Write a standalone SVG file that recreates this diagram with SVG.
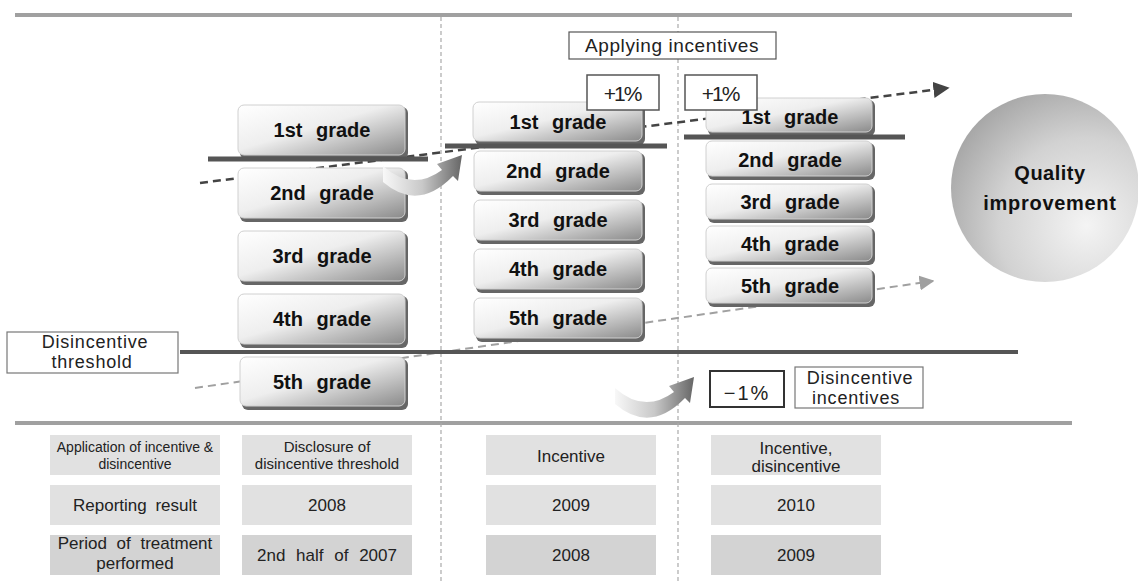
<svg xmlns="http://www.w3.org/2000/svg" width="1138" height="583" viewBox="0 0 1138 583">
<defs>
<linearGradient id="gb" x1="0" y1="0" x2="1" y2="1">
<stop offset="0" stop-color="#ffffff"/>
<stop offset="0.45" stop-color="#eeeeee"/>
<stop offset="1" stop-color="#8a8a8a"/>
</linearGradient>
<radialGradient id="gc" cx="0.72" cy="0.7" r="0.85">
<stop offset="0" stop-color="#f4f4f4"/>
<stop offset="0.55" stop-color="#d2d2d2"/>
<stop offset="1" stop-color="#a0a0a0"/>
</radialGradient>
<linearGradient id="ga" x1="0" y1="0" x2="1" y2="0">
<stop offset="0" stop-color="#f8f8f8"/>
<stop offset="0.5" stop-color="#c8c8c8"/>
<stop offset="1" stop-color="#666666"/>
</linearGradient>
<marker id="ahd" viewBox="0 0 10 10" refX="9" refY="5" markerWidth="6.5" markerHeight="6.5" orient="auto" markerUnits="strokeWidth">
<path d="M0,0 L10,5 L0,10 Z" fill="#444"/>
</marker>
<marker id="ahg" viewBox="0 0 10 10" refX="9" refY="5" markerWidth="7.5" markerHeight="7.5" orient="auto" markerUnits="strokeWidth">
<path d="M0,0 L10,5 L0,10 Z" fill="#a0a0a0"/>
</marker>
<path id="curv" d="M383,166 Q412,192 442,170 L437,164 L462,155 L458,181 L453,176 Q418,212 383,182 Z"/>
<style>
.sh{fill:#666;}
.bx{fill:url(#gb);stroke:#d0d0d0;stroke-width:1;}
.gt{font-family:"Liberation Sans",Arial,sans-serif;font-weight:bold;font-size:20px;fill:#111;text-anchor:middle;word-spacing:8px;}
.lb{fill:#fff;stroke:#555;stroke-width:1.2;}
.lt{font-family:"Liberation Sans",Arial,sans-serif;font-size:18px;fill:#222;text-anchor:middle;letter-spacing:0.8px;}
.cell1{fill:#e1e1e1;}
.cell3{fill:#d3d3d3;}
.ct{font-family:"Liberation Sans",Arial,sans-serif;font-size:17px;fill:#222;text-anchor:middle;}
.thick{stroke:#555;stroke-width:5;}
.vd{stroke:#aaa;stroke-width:1.2;stroke-dasharray:4 3;}
.hl{stroke:#a0a0a0;stroke-width:4;}
</style>
</defs>

<g id="frame">
<line class="hl" x1="15" y1="15" x2="1072" y2="15"/>
<line class="hl" x1="15" y1="423" x2="1072" y2="423"/>
<line class="vd" x1="441" y1="17" x2="441" y2="583"/>
<line class="vd" x1="678" y1="17" x2="678" y2="583"/>
</g>

<g id="connectors">
<line x1="200" y1="183" x2="948" y2="88" stroke="#444" stroke-width="2.5" stroke-dasharray="8 5" marker-end="url(#ahd)"/>
<line x1="195" y1="388" x2="933" y2="281" stroke="#a0a0a0" stroke-width="2" stroke-dasharray="8 5" marker-end="url(#ahg)"/>
</g>

<g id="col1">
<rect class="sh" x="240" y="107" width="168" height="52" rx="6"/><rect class="bx" x="238" y="105" width="167" height="50" rx="6"/><text class="gt" x="322" y="137">1st grade</text>
<rect class="sh" x="240" y="170" width="168" height="52" rx="6"/><rect class="bx" x="238" y="168" width="167" height="50" rx="6"/><text class="gt" x="322" y="200">2nd grade</text>
<rect class="sh" x="240" y="233" width="168" height="52" rx="6"/><rect class="bx" x="238" y="231" width="167" height="50" rx="6"/><text class="gt" x="322" y="263">3rd grade</text>
<rect class="sh" x="240" y="296" width="168" height="52" rx="6"/><rect class="bx" x="238" y="294" width="167" height="50" rx="6"/><text class="gt" x="322" y="326">4th grade</text>
<rect class="sh" x="242" y="359" width="166" height="51" rx="6"/><rect class="bx" x="240" y="357" width="165" height="49" rx="6"/><text class="gt" x="322" y="389">5th grade</text>
<line class="thick" x1="208" y1="159" x2="428" y2="159"/>
</g>

<g id="col2">
<rect class="sh" x="475" y="104" width="170" height="41" rx="6"/><rect class="bx" x="473" y="102" width="169" height="39" rx="6"/><text class="gt" x="558" y="129">1st grade</text>
<rect class="sh" x="476" y="153" width="169" height="42" rx="6"/><rect class="bx" x="474" y="151" width="168" height="40" rx="6"/><text class="gt" x="558" y="178">2nd grade</text>
<rect class="sh" x="476" y="202" width="169" height="42" rx="6"/><rect class="bx" x="474" y="200" width="168" height="40" rx="6"/><text class="gt" x="558" y="227">3rd grade</text>
<rect class="sh" x="476" y="251" width="169" height="42" rx="6"/><rect class="bx" x="474" y="249" width="168" height="40" rx="6"/><text class="gt" x="558" y="276">4th grade</text>
<rect class="sh" x="476" y="300" width="169" height="42" rx="6"/><rect class="bx" x="474" y="298" width="168" height="40" rx="6"/><text class="gt" x="558" y="325">5th grade</text>
<line class="thick" x1="445" y1="146" x2="667" y2="146"/>
</g>

<g id="col3">
<rect class="sh" x="708" y="100" width="167" height="36" rx="6"/><rect class="bx" x="706" y="98" width="166" height="34" rx="6"/><text class="gt" x="790" y="124">1st grade</text>
<rect class="sh" x="708" y="143" width="167" height="37" rx="6"/><rect class="bx" x="706" y="141" width="166" height="35" rx="6"/><text class="gt" x="790" y="167">2nd grade</text>
<rect class="sh" x="708" y="186" width="167" height="37" rx="6"/><rect class="bx" x="706" y="184" width="166" height="35" rx="6"/><text class="gt" x="790" y="209">3rd grade</text>
<rect class="sh" x="708" y="228" width="167" height="37" rx="6"/><rect class="bx" x="706" y="226" width="166" height="35" rx="6"/><text class="gt" x="790" y="251">4th grade</text>
<rect class="sh" x="708" y="270" width="167" height="37" rx="6"/><rect class="bx" x="706" y="268" width="166" height="35" rx="6"/><text class="gt" x="790" y="293">5th grade</text>
<line class="thick" x1="684" y1="137" x2="905" y2="137"/>
</g>

<g id="threshold-line">
<line x1="180" y1="352" x2="1018" y2="352" stroke="#555" stroke-width="4"/>
</g>

<g id="curved-arrows">
<use href="#curv" fill="url(#ga)"/>
<use href="#curv" fill="url(#ga)" transform="translate(232,222)"/>
</g>

<g id="quality">
<circle cx="1045" cy="188" r="94" fill="url(#gc)"/>
<text class="gt" x="1050" y="180" style="word-spacing:0;letter-spacing:0.5px">Quality</text>
<text class="gt" x="1050" y="210" style="word-spacing:0;letter-spacing:0.7px">improvement</text>
</g>

<g id="label-applying">
<rect class="lb" x="569" y="32" width="207" height="27"/>
<text class="lt" x="672" y="52" style="font-size:19px;letter-spacing:0.6px">Applying incentives</text>
</g>
<g id="label-plus1">
<rect class="lb" x="587" y="75" width="72" height="35" style="stroke-width:1.5"/>
<text class="lt" x="622" y="101" style="font-size:21px;letter-spacing:-2px">+1%</text>
</g>
<g id="label-plus2">
<rect class="lb" x="685" y="75" width="72" height="35" style="stroke-width:1.5"/>
<text class="lt" x="720" y="101" style="font-size:21px;letter-spacing:-2px">+1%</text>
</g>
<g id="label-threshold">
<rect class="lb" x="7" y="332" width="171" height="41" style="stroke:#777"/>
<text class="lt" x="95" y="348">Disincentive</text>
<text class="lt" x="92" y="368">threshold</text>
</g>
<g id="label-minus1">
<rect class="lb" x="710" y="371" width="74" height="36" style="stroke:#333;stroke-width:2"/>
<text class="lt" x="747" y="400" style="font-size:20px;letter-spacing:2px">−1%</text>
</g>
<g id="label-disinc">
<rect class="lb" x="795" y="367" width="128" height="41" style="stroke:#777"/>
<text class="lt" x="860" y="384">Disincentive</text>
<text class="lt" x="856" y="404">incentives</text>
</g>

<g id="table">
<rect class="cell1" x="50" y="435" width="170" height="40"/>
<text class="ct" x="135" y="452" style="font-size:14px">Application of incentive &amp;</text>
<text class="ct" x="135" y="469" style="font-size:14px">disincentive</text>
<rect class="cell1" x="242" y="435" width="170" height="40"/>
<text class="ct" x="327" y="452" style="font-size:15px">Disclosure of</text>
<text class="ct" x="327" y="469" style="font-size:15px">disincentive threshold</text>
<rect class="cell1" x="486" y="435" width="170" height="40"/>
<text class="ct" x="571" y="462">Incentive</text>
<rect class="cell1" x="711" y="435" width="170" height="40"/>
<text class="ct" x="796" y="454">Incentive,</text>
<text class="ct" x="796" y="472">disincentive</text>

<rect class="cell1" x="50" y="485" width="170" height="40"/>
<text class="ct" x="135" y="511" style="word-spacing:4px">Reporting result</text>
<rect class="cell1" x="242" y="485" width="170" height="40"/>
<text class="ct" x="327" y="511">2008</text>
<rect class="cell1" x="486" y="485" width="170" height="40"/>
<text class="ct" x="571" y="511">2009</text>
<rect class="cell1" x="711" y="485" width="170" height="40"/>
<text class="ct" x="796" y="511">2010</text>

<rect class="cell3" x="50" y="535" width="170" height="40"/>
<text class="ct" x="135" y="549" style="word-spacing:5px">Period of treatment</text>
<text class="ct" x="135" y="569">performed</text>
<rect class="cell3" x="242" y="535" width="170" height="40"/>
<text class="ct" x="327" y="561" style="word-spacing:6px">2nd half of 2007</text>
<rect class="cell3" x="486" y="535" width="170" height="40"/>
<text class="ct" x="571" y="561">2008</text>
<rect class="cell3" x="711" y="535" width="170" height="40"/>
<text class="ct" x="796" y="561">2009</text>
</g>
</svg>
